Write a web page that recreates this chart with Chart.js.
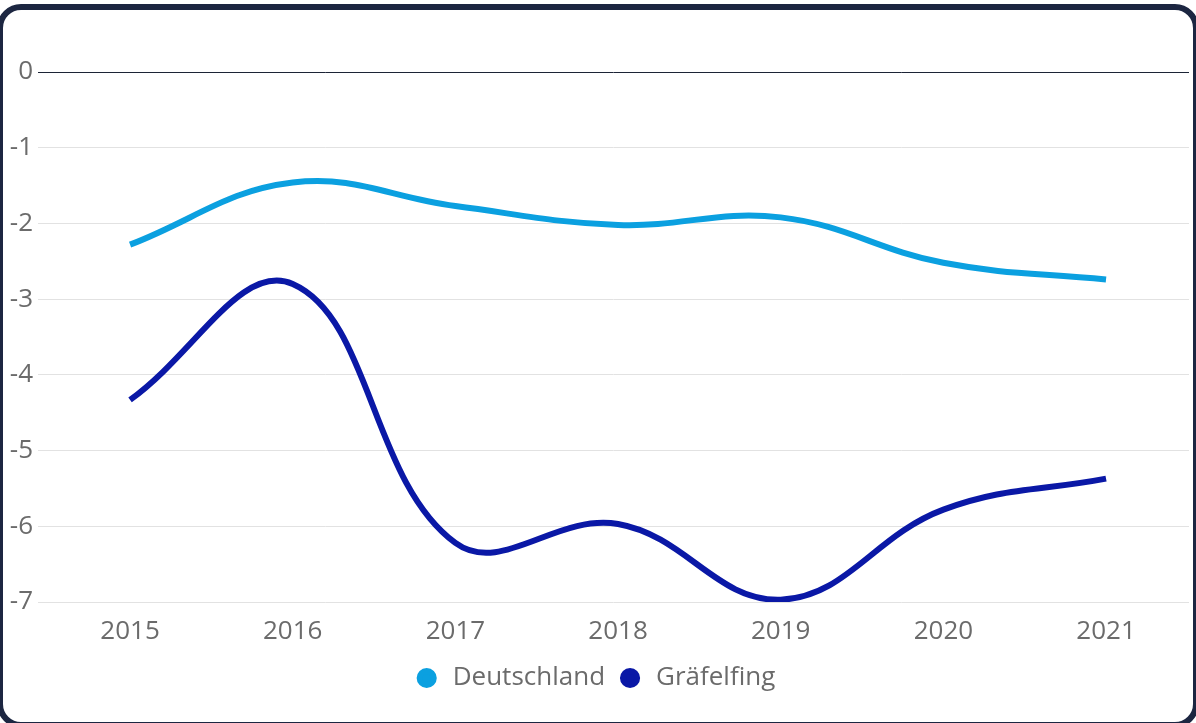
<!DOCTYPE html>
<html lang="de">
<head>
<meta charset="utf-8">
<title>Deutschland / Gräfelfing</title>
<script src="https://cdn.jsdelivr.net/npm/chart.js@4/dist/chart.umd.min.js"></script>
<style>
  html, body { margin: 0; padding: 0; background: #fff; overflow: hidden; }
  body { width: 1196px; height: 723px; position: relative; }
  .frame {
    position: absolute; left: -3px; top: 4px; width: 1190px; height: 712px;
    border: 6px solid #1c2641; border-radius: 24px; background: #fff;
  }
  #chart { position: absolute; left: 0; top: 0; }
</style>
</head>
<body>
<div class="frame"></div>
<canvas id="chart" width="1196" height="723"></canvas>
<script>
// Values
const years = [2015, 2016, 2017, 2018, 2019, 2020, 2021];
const deutschland = [-2.28, -1.46, -1.77, -2.02, -1.92, -2.52, -2.74];
const graefelfing = [-4.33, -2.8, -6.22, -5.97, -6.97, -5.78, -5.37];
const yTicks = [0, -1, -2, -3, -4, -5, -6, -7];

const FONT = "'Open Sans', sans-serif";
const TEXT = '#6b6b6b';

function toPoints(values) {
    return years.map((y, i) => ({ x: y, y: values[i] }));
}

const ctx = document.getElementById('chart').getContext('2d');

new Chart(ctx, {
    type: 'line',
    data: {
        datasets: [
            {
                label: 'Deutschland',
                data: toPoints(deutschland),
                borderColor: '#0ba0e0',
                backgroundColor: '#0ba0e0',
                borderWidth: 6,
                tension: 0.4,
                pointRadius: 0,
                fill: false,
            },
            {
                label: 'Gräfelfing',
                data: toPoints(graefelfing),
                borderColor: '#0a18a6',
                backgroundColor: '#0a18a6',
                borderWidth: 6,
                tension: 0.4,
                pointRadius: 0,
                fill: false,
            }
        ]
    },
    options: {
        responsive: false,
        animation: false,
        layout: { padding: { top: 72, right: 7, bottom: 22, left: 0 } },
        plugins: {
            tooltip: { enabled: false },
            legend: {
                position: 'bottom',
                labels: {
                    usePointStyle: true,
                    pointStyle: 'circle',
                    boxWidth: 28,
                    boxHeight: 10,
                    padding: 12,
                    color: TEXT,
                    font: { size: 26, family: FONT },
                }
            }
        },
        scales: {
            x: {
                type: 'linear',
                min: 2014.434,
                max: 2021.51,
                grid: { display: false },
                border: { display: false },
                ticks: {
                    stepSize: 1,
                    includeBounds: false,
                    padding: 6,
                    color: TEXT,
                    font: { size: 26, family: FONT },
                    callback: v => String(v),
                },
                afterFit: s => { s.height = 51; }
            },
            y: {
                min: -7,
                max: 0,
                grid: {
                    drawTicks: false,
                    lineWidth: 1,
                    color: c => (c.tick && c.tick.value === 0) ? '#1c2436' : '#e2e2e2',
                },
                border: { display: false },
                ticks: {
                    stepSize: 1,
                    padding: 5,
                    color: TEXT,
                    font: { size: 26, family: FONT },
                    callback: v => yTicks.includes(v) ? String(v) : '',
                },
                afterFit: s => { s.width = 38; }
            }
        }
    }
});
</script>
</body>
</html>
